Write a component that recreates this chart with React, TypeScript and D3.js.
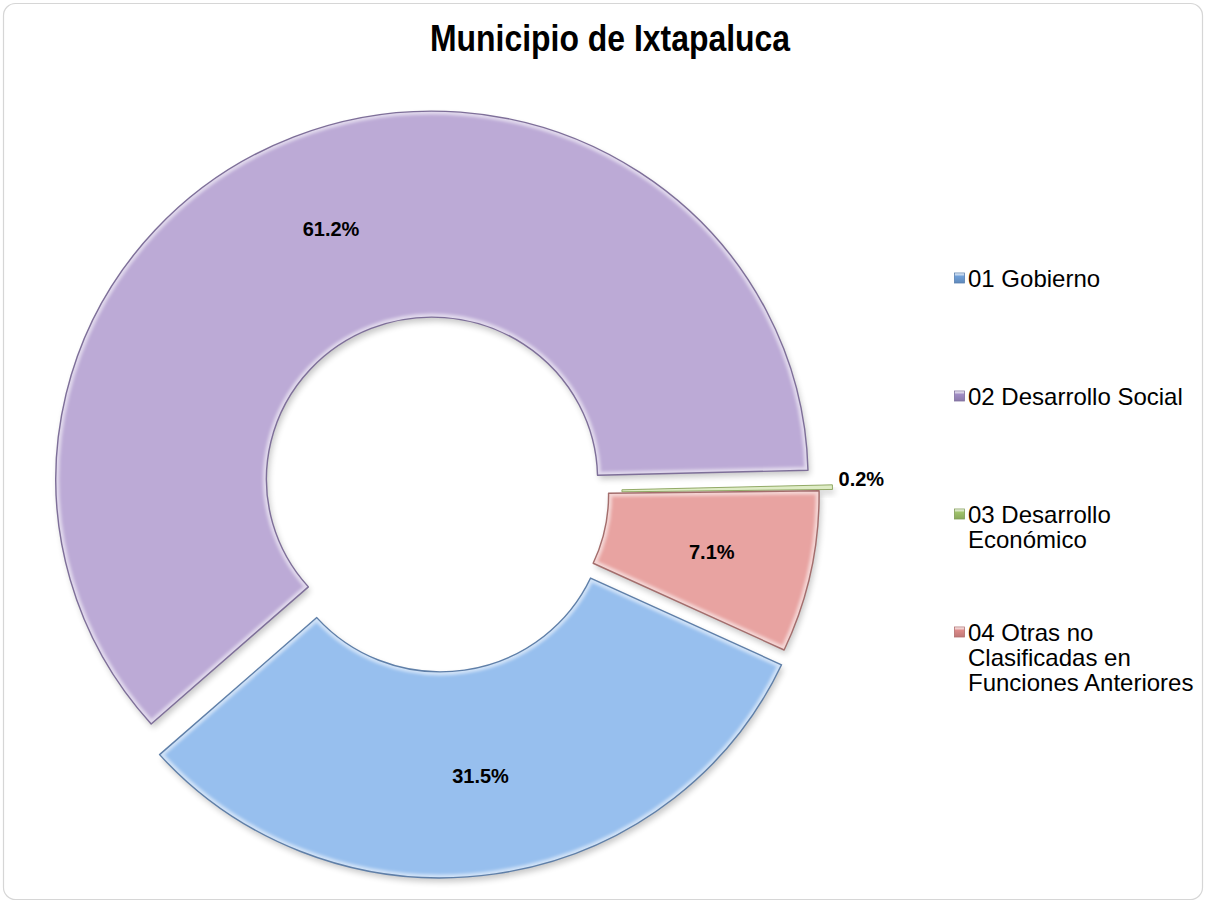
import React from "react";
import * as d3 from "d3";

const title = "Municipio de Ixtapaluca";
const categories = [
  "01 Gobierno",
  "02 Desarrollo Social",
  "03 Desarrollo Económico",
  "04 Otras no Clasificadas en Funciones Anteriores",
];
const values = [31.5, 61.2, 0.2, 7.1];
const valueLabels = ["31.5%", "61.2%", "0.2%", "7.1%"];
const legendLines = [
  ["01 Gobierno"],
  ["02 Desarrollo Social"],
  ["03 Desarrollo", "Económico"],
  ["04 Otras no", "Clasificadas en", "Funciones Anteriores"],
];

const fills = ["#97bfee", "#bcaad6", "#b5d47e", "#e8a3a1"];
const strokes = ["#5f7fa8", "#7e6f99", "#7f9a4f", "#a46e6d"];
const markerFills = ["#6f9fd8", "#a08cc4", "#9fc26a", "#dc8a89"];
const explode = [16, 16, 18, 5];

const W = 1206;
const H = 905;
const cx = 438;
const cy = 494;
const R = 368;
const r = 162;
const sx = 1.022;
const startDeg = 114.9;

export default function App() {
  const pie = d3
    .pie<number>()
    .sort(null)
    .value((d) => d)
    .startAngle((startDeg * Math.PI) / 180)
    .endAngle((startDeg * Math.PI) / 180 + 2 * Math.PI);
  const arcs = pie(values);
  const arcGen = d3.arc<any>().innerRadius(r).outerRadius(R);
  const labelArc = d3.arc<any>().innerRadius(r + 4).outerRadius(R + 4);

  const slices = arcs.map((a, i) => {
    const mid = (a.startAngle + a.endAngle) / 2;
    const ox = explode[i] * Math.sin(mid);
    const oy = -explode[i] * Math.cos(mid);
    return { a, i, ox, oy, mid, path: arcGen(a) as string };
  });

  const font = "'Liberation Sans', Arial, sans-serif";

  return (
    <div style={{ position: "absolute", left: 0, top: 0 }}>
      <svg width={W} height={H} style={{ display: "block" }}>
        <defs>
          <filter id="shadow" x="-20%" y="-20%" width="140%" height="140%">
            <feGaussianBlur stdDeviation="3" />
          </filter>
          <filter id="soft" x="-20%" y="-20%" width="140%" height="140%">
            <feGaussianBlur stdDeviation="1.6" />
          </filter>
          {slices.map((s) => (
            <clipPath id={`clip${s.i}`} key={`c${s.i}`}>
              <path d={s.path} />
            </clipPath>
          ))}
          {markerFills.map((c, i) => (
            <linearGradient id={`mg${i}`} key={`g${i}`} x1="0" y1="0" x2="0" y2="1">
              <stop offset="0" stopColor="#ffffff" stopOpacity="0.9" />
              <stop offset="0.35" stopColor={c} />
              <stop offset="1" stopColor={d3.color(c)!.darker(0.4).toString()} />
            </linearGradient>
          ))}
        </defs>
        <rect x={0} y={0} width={W} height={H} fill="#ffffff" />
        <rect
          x={3.5}
          y={3.5}
          width={1199}
          height={896}
          rx={12}
          ry={12}
          fill="#ffffff"
          stroke="#d6d6d6"
          strokeWidth={1.2}
        />
        <text
          x={610}
          y={51}
          textAnchor="middle"
          fontFamily={font}
          fontWeight="bold"
          fontSize={36}
          textLength={360}
          lengthAdjust="spacingAndGlyphs"
          fill="#000"
        >
          {title}
        </text>

        <g transform={`translate(${cx},${cy}) scale(${sx},1)`}>
          {slices.map((s) => (
            <path
              key={`sh${s.i}`}
              d={s.path}
              transform={`translate(${s.ox + 2},${s.oy + 4})`}
              fill="#000"
              opacity={0.22}
              filter="url(#shadow)"
            />
          ))}
          {slices.map((s) => (
            <g key={`s${s.i}`} transform={`translate(${s.ox},${s.oy})`}>
              <path d={s.path} fill={fills[s.i]} />
              <g clipPath={`url(#clip${s.i})`}>
                <path
                  d={s.path}
                  fill="none"
                  stroke="#ffffff"
                  strokeOpacity={0.55}
                  strokeWidth={7}
                  filter="url(#soft)"
                />
              </g>
              <path
                d={s.path}
                fill="none"
                stroke={strokes[s.i]}
                strokeWidth={s.i === 2 ? 0.8 : 1.4}
                strokeLinejoin="round"
              />
            </g>
          ))}
        </g>

        {slices.map((s) => {
          let x: number;
          let y: number;
          if (values[s.i] < 1) {
            x = cx + sx * (s.ox + (R + 6) * Math.sin(s.mid));
            y = cy + s.oy - (R + 6) * Math.cos(s.mid) - 8;
            return (
              <text
                key={`l${s.i}`}
                x={x}
                y={y}
                textAnchor="start"
                dominantBaseline="central"
                fontFamily={font}
                fontWeight="bold"
                fontSize={20}
                fill="#000"
              >
                {valueLabels[s.i]}
              </text>
            );
          }
          const c = labelArc.centroid(s.a);
          x = cx + sx * (s.ox + c[0]);
          y = cy + s.oy + c[1];
          return (
            <text
              key={`l${s.i}`}
              x={x}
              y={y}
              textAnchor="middle"
              dominantBaseline="central"
              fontFamily={font}
              fontWeight="bold"
              fontSize={20}
              fill="#000"
            >
              {valueLabels[s.i]}
            </text>
          );
        })}

        {legendLines.map((lines, i) => {
          const y0 = 278 + i * 118;
          return (
            <g key={`lg${i}`}>
              <rect
                x={954.5}
                y={y0 - 5}
                width={10}
                height={10}
                fill={`url(#mg${i})`}
                stroke={d3.color(markerFills[i])!.darker(0.6).toString()}
                strokeWidth={0.8}
              />
              {lines.map((t, j) => (
                <text
                  key={j}
                  x={968}
                  y={y0 + j * 25}
                  dominantBaseline="central"
                  fontFamily={font}
                  fontSize={24}
                  fill="#000"
                >
                  {t}
                </text>
              ))}
            </g>
          );
        })}
      </svg>
    </div>
  );
}
